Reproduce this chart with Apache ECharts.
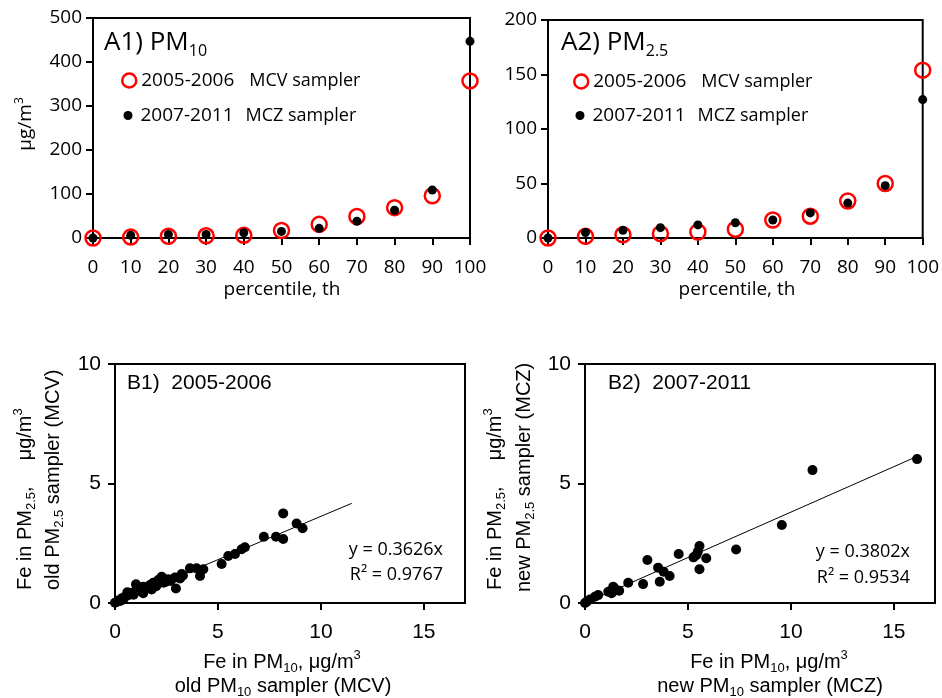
<!DOCTYPE html>
<html><head><meta charset="utf-8">
<script src="https://cdn.jsdelivr.net/npm/echarts@6/dist/echarts.min.js"></script>
<style>html,body{margin:0;padding:0;background:#fff}#c{width:942px;height:698px}</style>
</head><body><div id="c"></div>
<script>
// ---------- data ----------
const percentiles = [0,10,20,30,40,50,60,70,80,90,100];
const pm10_2005 = [0,2,4,5,6,17,31,49,69,96,357];
const pm10_2007 = [0,6,8,8,12,15,22,38,63,109,447];
const pm25_2005 = [0,1.5,3,4,5.5,8,16.5,20,34,50,154];
const pm25_2007 = [0,5,7,9.5,12,14,16.5,23,32,48,127];
const aXTicks = [0,10,20,30,40,50,60,70,80,90,100];
const a1YTicks = [0,100,200,300,400,500];
const a2YTicks = [0,50,100,150,200];
const bXTicks = [0,5,10,15];
const bYTicks = [0,5,10];
const b1Fe10 = [8.17,8.82,9.11,8.17,7.82,7.23,6.31,6.15,5.83,5.5,5.18,4.29,3.96,3.64,4.13,3.24,3.16,2.91,2.96,2.59,2.27,2.35,2.1,1.86,1.7,1.78,1.37,1.37,1.02,1.05,0.81,0.65,0.49,0.33,0.16,0,0.25,0.6,0.9,1.2,1.55,2.0,2.45,2.7,3.3,0.1,0.4];
const b1Fe25 = [3.75,3.33,3.13,2.68,2.77,2.77,2.33,2.25,2.05,1.97,1.63,1.41,1.45,1.45,1.13,1.21,1.03,1.07,0.61,0.99,1.1,0.85,0.96,0.85,0.75,0.57,0.68,0.41,0.78,0.54,0.43,0.33,0.26,0.2,0.1,0.01,0.08,0.45,0.35,0.5,0.62,0.7,0.88,0.92,1.15,0.05,0.15];
const b2Fe10 = [16.13,11.05,9.56,7.34,5.56,5.48,5.27,5.89,5.56,4.55,3.03,3.55,3.82,4.11,3.63,2.82,2.1,1.66,1.37,1.29,1.13,0.64,0.48,0.24,0.08,0,5.4,1.45];
const b2Fe25 = [6.02,5.56,3.26,2.24,2.38,2.14,1.91,1.87,1.41,2.05,1.8,1.48,1.31,1.13,0.89,0.79,0.85,0.51,0.68,0.41,0.47,0.33,0.26,0.15,0.05,0,2.0,0.6];
const b1Slope = 0.3626, b1R2 = 0.9767, b1TrendX = [0, 11.5];
const b2Slope = 0.3802, b2R2 = 0.9534, b2TrendX = [0, 16.2];

// ---------- helpers ----------
const zip = (a,b) => a.map((v,i)=>[v,b[i]]);
const AF = 'Open Sans', BF = 'Liberation Sans';
const black = '#000', red = '#ff0000';

function axisPair(gi, min, max, ticks, font, size, margin){
  const base = {type:'value', gridIndex:gi, min:min, max:max, splitLine:{show:false}};
  const main = Object.assign({}, base, {
    axisLine:{show:true, onZero:false, lineStyle:{color:black, width:2}},
    axisTick:{show:true, length:7, customValues:ticks, lineStyle:{color:black, width:2}},
    axisLabel:{show:true, customValues:ticks, color:black, fontFamily:font, fontSize:size, margin:margin}
  });
  const dup = Object.assign({}, base, {
    axisLine:{show:false},
    axisTick:{show:true, inside:true, length:7, customValues:ticks, lineStyle:{color:black, width:2}},
    axisLabel:{show:false}
  });
  return [main, dup];
}
const grids = [
  {left:93, top:18, width:377, height:220},
  {left:548, top:20, width:377, height:218},
  {left:115, top:364, width:350, height:239},
  {left:585, top:364, width:350, height:239}
].map(g=>Object.assign(g,{show:true, borderColor:black, borderWidth:2, backgroundColor:'transparent'}));

const xs = [
  axisPair(0,0,100,aXTicks,AF,19,20),
  axisPair(1,0,100,aXTicks,AF,19,20),
  axisPair(2,0,17,bXTicks,BF,21,19),
  axisPair(3,0,17,bXTicks,BF,21,19)
];
const ys = [
  axisPair(0,0,500,a1YTicks,AF,19,11),
  axisPair(1,0,200,a2YTicks,AF,19,11),
  axisPair(2,0,10,bYTicks,BF,21,14),
  axisPair(3,0,10,bYTicks,BF,21,14)
];
const xAxis = xs.map(p=>p[0]).concat(xs.map(p=>p[1]));
const yAxis = ys.map(p=>p[0]).concat(ys.map(p=>p[1]));

const redStyle = {color:'rgba(0,0,0,0)', borderColor:red, borderWidth:2.5, opacity:1};
const blackStyle = {color:black, opacity:1};
function redSeries(gi, vals){ return {type:'scatter', name:'2005-2006', xAxisIndex:gi, yAxisIndex:gi, symbol:'circle', symbolSize:15, itemStyle:redStyle, data:zip(percentiles, vals), z:2}; }
function blackSeries(gi, vals){ return {type:'scatter', name:'2007-2011', xAxisIndex:gi, yAxisIndex:gi, symbol:'circle', symbolSize:9, itemStyle:blackStyle, data:zip(percentiles, vals), z:3}; }
function bSeries(gi, xv, yv){ return {type:'scatter', xAxisIndex:gi, yAxisIndex:gi, symbol:'circle', symbolSize:10, itemStyle:blackStyle, data:zip(xv,yv), z:3}; }
function trend(gi, tx, slope){ return {type:'line', xAxisIndex:gi, yAxisIndex:gi, showSymbol:false, symbol:'none', lineStyle:{color:black, width:1}, data:tx.map(x=>[x, slope*x]), z:2, silent:true}; }

function legendFor(name, sampler, left, top, iw, style, pad){
  return {data:[{name:name, icon:'circle', itemStyle:style}], left:left, top:top, padding:0, itemWidth:iw, itemHeight:iw,
    selectedMode:false, itemGap:0,
    formatter: n => '{a|'+n+'}{b|'+sampler+'}',
    textStyle:{rich:{
      a:{fontFamily:AF, fontSize:19, lineHeight:22, width:108 - pad, color:black, padding:[0,0,0,pad]},
      b:{fontFamily:AF, fontSize:18, lineHeight:22, color:black}
    }}};
}
const legends = [
  legendFor('2005-2006','MCV sampler',121,71,14,redStyle,0),
  legendFor('2007-2011','MCZ sampler',123.5,106,9,blackStyle,3),
  legendFor('2005-2006','MCV sampler',573,72,14,redStyle,0),
  legendFor('2007-2011','MCZ sampler',575.5,106,9,blackStyle,3)
];

function txt(x,y,text,rich,opts){
  const s = Object.assign({text:text, rich:rich, fill:black, align:'left', textAlign:'left', verticalAlign:'middle', textVerticalAlign:'middle'}, opts||{});
  const el = {type:'text', x:x, y:y, style:s, z:10};
  if (opts && opts.rot) { el.rotation = opts.rot; }
  return el;
}
const richA = {
  m:{fontFamily:AF, fontSize:26, lineHeight:32, color:black},
  s:{fontFamily:AF, fontSize:16, lineHeight:16, verticalAlign:'bottom', color:black}
};
const richAy = {
  m:{fontFamily:AF, fontSize:19, lineHeight:24, color:black},
  p:{fontFamily:AF, fontSize:12, lineHeight:12, verticalAlign:'top', color:black}
};
const richB = {
  m:{fontFamily:BF, fontSize:20, lineHeight:26, color:black},
  g:{fontFamily:BF, fontSize:20, lineHeight:26, color:black, padding:[0,0,0,26]},
  s:{fontFamily:BF, fontSize:13, lineHeight:13, verticalAlign:'bottom', color:black},
  p:{fontFamily:BF, fontSize:13, lineHeight:13, verticalAlign:'top', color:black}
};
const richT = { m:{fontFamily:BF, fontSize:21, lineHeight:26, color:black} };
const richE = { m:{fontFamily:AF, fontSize:18, lineHeight:24, color:black} };
const C = {align:'center', textAlign:'center'};
const R = {align:'right', textAlign:'right'};
const rot = Math.PI/2;
const graphics = [
  txt(104,43,'{m|A1) PM}{s|10}',richA),
  txt(561,43,'{m|A2) PM}{s|2.5}',richA),
  txt(26,124,'{m|μg/m}{p|3}',richAy,Object.assign({rot:rot},C)),
  txt(282,290,'{m|percentile, th}',richAy,C),
  txt(737,290,'{m|percentile, th}',richAy,C),
  txt(127,383,'{m|B1)  2005-2006}',richT),
  txt(608,383,'{m|B2)  2007-2011}',richT),
  txt(443,550,'{m|y = '+b1Slope.toFixed(4)+'x}',richE,R),
  txt(443,575,'{m|R² = '+b1R2.toFixed(4)+'}',richE,R),
  txt(910,552,'{m|y = '+b2Slope.toFixed(4)+'x}',richE,R),
  txt(910,578,'{m|R² = '+b2R2.toFixed(4)+'}',richE,R),
  txt(282,662,'{m|Fe in PM}{s|10}{m|, μg/m}{p|3}',richB,C),
  txt(283,686,'{m|old PM}{s|10}{m| sampler (MCV)}',richB,C),
  txt(769,662,'{m|Fe in PM}{s|10}{m|, μg/m}{p|3}',richB,C),
  txt(770,686,'{m|new PM}{s|10}{m| sampler (MCZ)}',richB,C),
  txt(25,590,'{m|Fe in PM}{s|2.5}{m|,}{g|μg/m}{p|3}',richB,{rot:rot}),
  txt(53,590,'{m|old PM}{s|2.5}{m| sampler (MCV)}',richB,{rot:rot}),
  txt(495,590,'{m|Fe in PM}{s|2.5}{m|,}{g|μg/m}{p|3}',richB,{rot:rot}),
  txt(524,592,'{m|new PM}{s|2.5}{m| sampler (MCZ)}',richB,{rot:rot})
];

const chart = echarts.init(document.getElementById('c'), null, {renderer:'canvas'});
chart.setOption({
  animation:false,
  backgroundColor:'#fff',
  grid:grids,
  xAxis:xAxis,
  yAxis:yAxis,
  legend:legends,
  graphic:{elements:graphics},
  series:[
    redSeries(0,pm10_2005), blackSeries(0,pm10_2007),
    redSeries(1,pm25_2005), blackSeries(1,pm25_2007),
    trend(2,b1TrendX,b1Slope), bSeries(2,b1Fe10,b1Fe25),
    trend(3,b2TrendX,b2Slope), bSeries(3,b2Fe10,b2Fe25)
  ]
});
</script></body></html>
